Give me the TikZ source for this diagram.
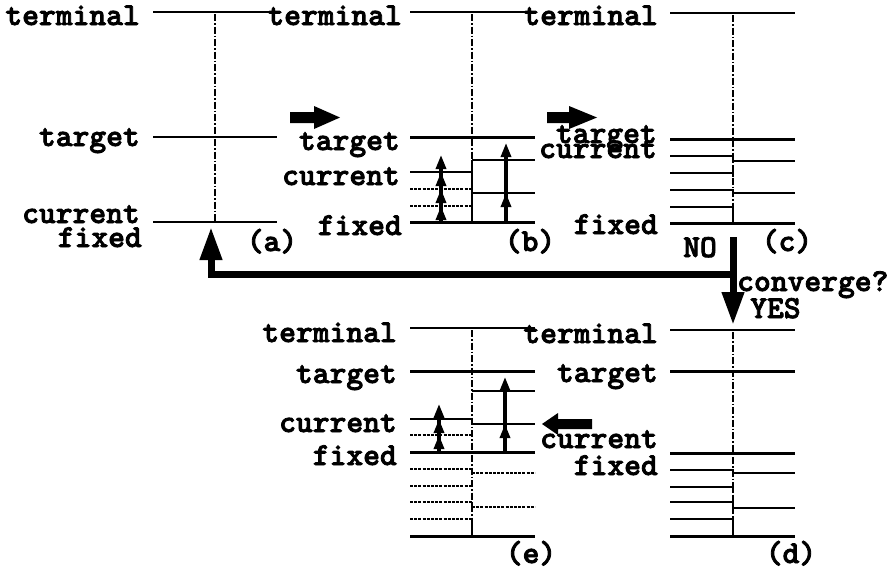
\documentclass[tikz,border=0pt]{standalone}
\usepackage{fontspec}
\newfontfamily\courbold[FakeBold=2.5]{lmmonolt10-bold.otf}
\usetikzlibrary{arrows.meta}
\begin{document}
\begin{tikzpicture}[x=1pt,y=-1pt,
  txt/.style={font=\courbold\fontsize{32}{34}\selectfont, inner sep=0pt},
  lbl/.style={txt, anchor=base east},
  tag/.style={txt, anchor=base},
  tagw/.style={txt, anchor=base west},
  lev/.style={line width=2.4pt},
  thk/.style={line width=3pt},
  thin/.style={line width=1.4pt},
  dot/.style={line width=1.3pt, dash pattern=on 3pt off 1.2pt},
  axis/.style={line width=1.3pt, dash pattern=on 7pt off 2pt on 1.5pt off 2pt},
  upar/.style={line width=3.2pt, -{Triangle[length=14pt,width=10pt]}},
  big/.style={line width=7pt, -{Triangle[length=33pt,width=21pt]}},
  blk/.style={fill=black}]
\useasboundingbox (0,0) rectangle (893,573);

% ---------- (a)
\draw[lev] (153,12) -- (277,12);
\draw[lev] (153,137) -- (277,137);
\draw[lev] (153,222) -- (277,222);
\draw[axis] (215,14) -- (215,222);
\node[lbl] (aterm) at (140,25) {terminal};
\node[lbl] (atarg) at (140,146) {target};
\node[lbl] (acurr) at (140,223) {current};
\node[lbl] (afix) at (142,247) {fixed};
\node[tag] (atag) at (272,251) {(a)};

% ---------- (b)
\draw[lev] (410,12) -- (535,12);
\draw[thk] (410,137) -- (535,137);
\draw[lev] (410,172) -- (472,172);
\draw[dot] (410,189) -- (472,189);
\draw[dot] (410,206) -- (472,206);
\draw[thk] (410,222) -- (535,222);
\draw[lev] (472,160) -- (535,160);
\draw[thin] (472,193) -- (535,193);
\draw[axis] (472,14) -- (472,160);
\draw[thin] (472,160) -- (472,222);
\draw[upar] (441,222) -- (441,155);
\draw[upar] (441,222) -- (441,172);
\draw[upar] (441,222) -- (441,189);
\draw[upar] (441,222) -- (441,206);
\draw[upar] (506,222) -- (506,143);
\draw[upar] (506,222) -- (506,193);
\node[lbl] (bterm) at (402,25) {terminal};
\node[lbl] (btarg) at (400,150) {target};
\node[lbl] (bcurr) at (400,185) {current};
\node[lbl] (bfix) at (402,235) {fixed};
\node[tag] (btag) at (530,251) {(b)};
\fill[blk] (290,112) -- (314,112) -- (314,106) -- (340,117.5) -- (314,129) -- (314,123) -- (290,123) -- cycle;

% ---------- (c)
\draw[lev] (670,13) -- (795,13);
\draw[thk] (670,139) -- (795,139);
\draw[thin] (670,156) -- (733,156) -- (733,161) -- (795,161);
\draw[thin] (670,173) -- (733,173) -- (733,177);
\draw[thin] (670,190) -- (733,190) -- (733,193) -- (795,193);
\draw[thin] (670,207) -- (733,207) -- (733,223);
\draw[thk] (670,223) -- (795,223);
\draw[axis] (733,15) -- (733,223);
\node[lbl] (cterm) at (658,25) {terminal};
\node[lbl] (ctarg) at (657,143) {target};
\node[lbl] (ccurr) at (657,158) {current};
\node[lbl] (cfix) at (658,234) {fixed};
\node[tag] (ctag) at (787,251) {(c)};
\fill[blk] (547,112) -- (569,112) -- (569,106) -- (597,117.5) -- (569,129) -- (569,123) -- (547,123) -- cycle;

% ---------- (d)
\draw[lev] (670,330) -- (795,330);
\draw[thk] (670,371) -- (795,371);
\draw[thk] (670,453) -- (795,453);
\draw[thin] (670,470) -- (733,470) -- (733,473) -- (795,473);
\draw[thin] (670,487) -- (733,487) -- (733,491);
\draw[thin] (670,502) -- (733,502) -- (733,508) -- (795,508);
\draw[thin] (670,519) -- (733,519) -- (733,536);
\draw[thk] (670,536) -- (795,536);
\draw[axis] (733,332) -- (733,536);
\node[lbl] (dterm) at (658,343) {terminal};
\node[lbl] (dtarg) at (658,382) {target};
\node[lbl] (dcurr) at (658,448) {current};
\node[lbl] (dfix) at (658,475) {fixed};
\node[tag] (dtag) at (791,563) {(d)};
\fill[blk] (592,419) -- (558,419) -- (558,413) -- (542,424) -- (558,435) -- (558,429) -- (592,429) -- cycle;

% ---------- (e)
\draw[lev] (410,328) -- (535,328);
\draw[thk] (410,371) -- (535,371);
\draw[lev] (472,391) -- (535,391);
\draw[lev] (410,419) -- (472,419);
\draw[thin] (472,424) -- (535,424);
\draw[dot] (410,435) -- (472,435);
\draw[thk] (410,452) -- (535,452);
\draw[dot] (410,469) -- (472,469);
\draw[dot] (410,486) -- (472,486);
\draw[dot] (410,502) -- (472,502);
\draw[dot] (410,519) -- (472,519);
\draw[dot] (472,473) -- (535,473);
\draw[dot] (472,507) -- (535,507);
\draw[thin] (472,469) -- (472,473);
\draw[thin] (472,502) -- (472,507);
\draw[thin] (472,519) -- (472,536);
\draw[thk] (410,536) -- (535,536);
\draw[axis] (472,330) -- (472,536);
\draw[upar] (439,452) -- (439,404);
\draw[upar] (439,452) -- (439,419);
\draw[upar] (439,452) -- (439,435);
\draw[upar] (505,452) -- (505,377);
\draw[upar] (505,452) -- (505,424);
\node[lbl] (eterm) at (397,342) {terminal};
\node[lbl] (etarg) at (397,383) {target};
\node[lbl] (ecurr) at (397,432) {current};
\node[lbl] (efix) at (397,465) {fixed};
\node[tag] (etag) at (531,563) {(e)};

% ---------- feedback loop
\coordinate (cbot) at (733,237);
\coordinate (dtop) at (733,325);
\coordinate (branch) at (733,274);
\coordinate (abot) at (211,227);
\draw[big] (cbot) -- (dtop);
\draw[big] (branch) -| (abot);
\node[tagw] (no) at (683,257) {NO};
\node[tagw] (conv) at (737,291) {converge?};
\node[tagw] (yes) at (750,318) {YES};
\end{tikzpicture}
\end{document}
